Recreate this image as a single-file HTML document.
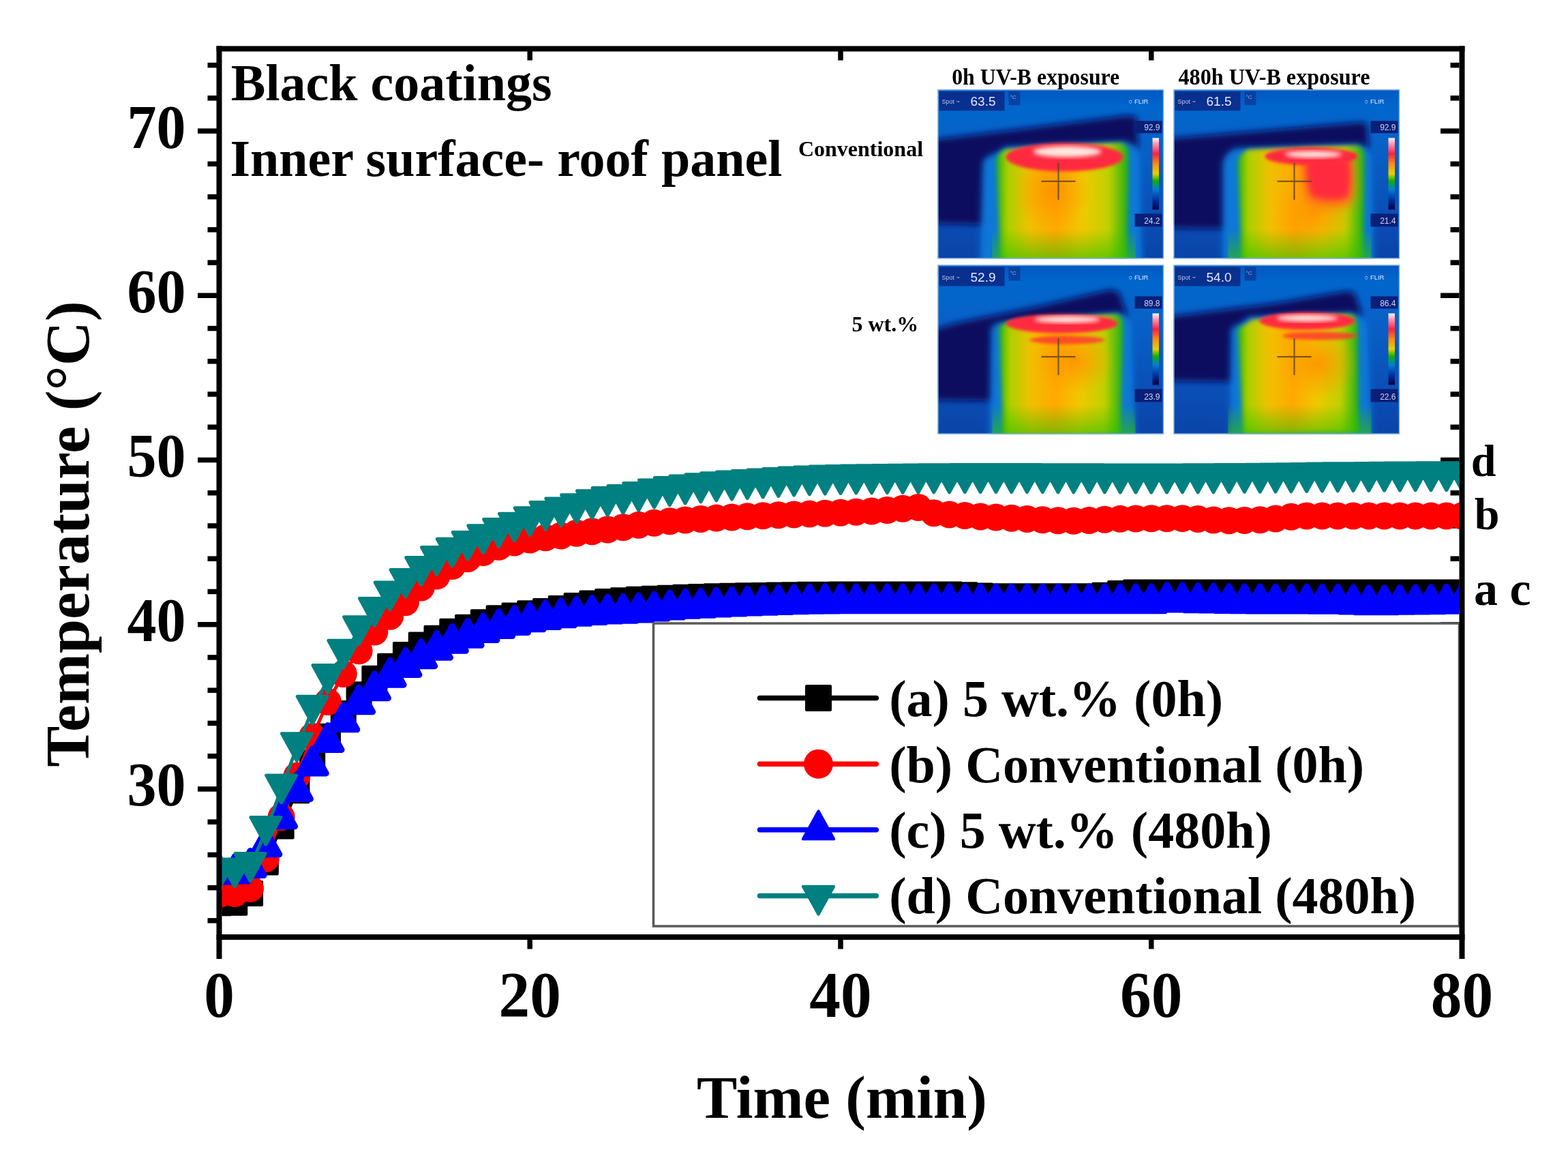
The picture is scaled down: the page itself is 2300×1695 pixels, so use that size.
<!DOCTYPE html><html><head><meta charset="utf-8"><title>Temperature vs time</title>
<style>html,body{margin:0;padding:0;background:#fff;}svg{display:block;}text{font-family:"Liberation Serif","Times New Roman",serif;font-weight:bold;fill:#000;}.th text{font-family:"Liberation Sans",sans-serif;font-weight:normal;}</style></head><body>
<svg width="2300" height="1695" viewBox="0 0 2300 1695">
<rect width="2300" height="1695" fill="#fff"/>
<g fill="#000"><rect x="304.5" y="1346.13" width="14" height="7.5"/><rect x="2127.5" y="1346.13" width="13" height="7.5"/><rect x="304.5" y="1297.89" width="14" height="7.5"/><rect x="2127.5" y="1297.89" width="13" height="7.5"/><rect x="304.5" y="1249.65" width="14" height="7.5"/><rect x="2127.5" y="1249.65" width="13" height="7.5"/><rect x="304.5" y="1201.41" width="14" height="7.5"/><rect x="2127.5" y="1201.41" width="13" height="7.5"/><rect x="290" y="1153.17" width="28.5" height="7.5"/><rect x="2113" y="1153.17" width="27.5" height="7.5"/><rect x="304.5" y="1104.93" width="14" height="7.5"/><rect x="2127.5" y="1104.93" width="13" height="7.5"/><rect x="304.5" y="1056.69" width="14" height="7.5"/><rect x="2127.5" y="1056.69" width="13" height="7.5"/><rect x="304.5" y="1008.44" width="14" height="7.5"/><rect x="2127.5" y="1008.44" width="13" height="7.5"/><rect x="304.5" y="960.2" width="14" height="7.5"/><rect x="2127.5" y="960.2" width="13" height="7.5"/><rect x="290" y="911.96" width="28.5" height="7.5"/><rect x="2113" y="911.96" width="27.5" height="7.5"/><rect x="304.5" y="863.72" width="14" height="7.5"/><rect x="2127.5" y="863.72" width="13" height="7.5"/><rect x="304.5" y="815.48" width="14" height="7.5"/><rect x="2127.5" y="815.48" width="13" height="7.5"/><rect x="304.5" y="767.24" width="14" height="7.5"/><rect x="2127.5" y="767.24" width="13" height="7.5"/><rect x="304.5" y="719" width="14" height="7.5"/><rect x="2127.5" y="719" width="13" height="7.5"/><rect x="290" y="670.76" width="28.5" height="7.5"/><rect x="2113" y="670.76" width="27.5" height="7.5"/><rect x="304.5" y="622.52" width="14" height="7.5"/><rect x="2127.5" y="622.52" width="13" height="7.5"/><rect x="304.5" y="574.28" width="14" height="7.5"/><rect x="2127.5" y="574.28" width="13" height="7.5"/><rect x="304.5" y="526.04" width="14" height="7.5"/><rect x="2127.5" y="526.04" width="13" height="7.5"/><rect x="304.5" y="477.8" width="14" height="7.5"/><rect x="2127.5" y="477.8" width="13" height="7.5"/><rect x="290" y="429.56" width="28.5" height="7.5"/><rect x="2113" y="429.56" width="27.5" height="7.5"/><rect x="304.5" y="381.31" width="14" height="7.5"/><rect x="2127.5" y="381.31" width="13" height="7.5"/><rect x="304.5" y="333.07" width="14" height="7.5"/><rect x="2127.5" y="333.07" width="13" height="7.5"/><rect x="304.5" y="284.83" width="14" height="7.5"/><rect x="2127.5" y="284.83" width="13" height="7.5"/><rect x="304.5" y="236.59" width="14" height="7.5"/><rect x="2127.5" y="236.59" width="13" height="7.5"/><rect x="290" y="188.35" width="28.5" height="7.5"/><rect x="2113" y="188.35" width="27.5" height="7.5"/><rect x="304.5" y="140.11" width="14" height="7.5"/><rect x="2127.5" y="140.11" width="13" height="7.5"/><rect x="304.5" y="91.87" width="14" height="7.5"/><rect x="2127.5" y="91.87" width="13" height="7.5"/><rect x="773.5" y="1377" width="7.5" height="14.5"/><rect x="773.5" y="74.5" width="7.5" height="14"/><rect x="1229.25" y="1377" width="7.5" height="14.5"/><rect x="1229.25" y="74.5" width="7.5" height="14"/><rect x="1685" y="1377" width="7.5" height="14.5"/><rect x="1685" y="74.5" width="7.5" height="14"/></g>
<defs><clipPath id="plot"><rect x="325.5" y="75.5" width="1815" height="1294.5"/></clipPath></defs>
<g clip-path="url(#plot)">
<polyline points="321.5,1324.31 344.29,1323.83 367.07,1310.08 389.86,1264.49 412.65,1211.43 435.44,1159.33 458.23,1118.32 481.01,1079.73 503.8,1045.96 526.59,1018.22 549.38,994.83 572.16,976.74 594.95,960.09 617.74,945.62 640.52,935.73 663.31,925.84 686.1,919.81 708.89,912.34 731.67,906.31 754.46,902.45 777.25,899.31 800.04,895.93 822.83,892.08 845.61,887.99 868.4,884.45 891.19,882.11 913.98,880.34 936.76,878.87 959.55,877.65 982.34,876.64 1005.12,875.76 1027.91,874.99 1050.7,874.33 1073.49,873.78 1096.28,873.33 1119.06,872.9 1141.85,872.49 1164.64,872.13 1187.42,871.84 1210.21,871.64 1233,871.57 1255.79,871.57 1278.58,871.57 1301.36,871.57 1324.15,871.57 1346.94,871.57 1369.72,871.57 1392.51,871.57 1415.3,872.26 1438.09,873.54 1460.88,874.23 1483.66,874.23 1506.45,874.23 1529.24,874.23 1552.03,874.23 1574.81,874.23 1597.6,874.23 1620.39,872.73 1643.17,869.94 1665.96,868.44 1688.75,868.44 1711.54,868.44 1734.33,868.44 1757.11,868.44 1779.9,868.44 1802.69,868.44 1825.47,868.44 1848.26,868.44 1871.05,868.44 1893.84,868.44 1916.62,868.44 1939.41,868.44 1962.2,868.44 1984.99,868.44 2007.78,868.44 2030.56,868.44 2053.35,868.44 2076.14,868.44 2098.93,868.44 2121.71,868.44 2144.5,868.44" fill="none" stroke="#000000" stroke-width="5.0" stroke-linejoin="round"/>
<path d="M304.5 1307.31h34v34h-34zM327.29 1306.83h34v34h-34zM350.07 1293.08h34v34h-34zM372.86 1247.49h34v34h-34zM395.65 1194.43h34v34h-34zM418.44 1142.33h34v34h-34zM441.23 1101.32h34v34h-34zM464.01 1062.73h34v34h-34zM486.8 1028.96h34v34h-34zM509.59 1001.22h34v34h-34zM532.38 977.83h34v34h-34zM555.16 959.74h34v34h-34zM577.95 943.09h34v34h-34zM600.74 928.62h34v34h-34zM623.52 918.73h34v34h-34zM646.31 908.84h34v34h-34zM669.1 902.81h34v34h-34zM691.89 895.34h34v34h-34zM714.67 889.31h34v34h-34zM737.46 885.45h34v34h-34zM760.25 882.31h34v34h-34zM783.04 878.93h34v34h-34zM805.83 875.08h34v34h-34zM828.61 870.99h34v34h-34zM851.4 867.45h34v34h-34zM874.19 865.11h34v34h-34zM896.98 863.34h34v34h-34zM919.76 861.87h34v34h-34zM942.55 860.65h34v34h-34zM965.34 859.64h34v34h-34zM988.12 858.76h34v34h-34zM1010.91 857.99h34v34h-34zM1033.7 857.33h34v34h-34zM1056.49 856.78h34v34h-34zM1079.28 856.33h34v34h-34zM1102.06 855.9h34v34h-34zM1124.85 855.49h34v34h-34zM1147.64 855.13h34v34h-34zM1170.42 854.84h34v34h-34zM1193.21 854.64h34v34h-34zM1216 854.57h34v34h-34zM1238.79 854.57h34v34h-34zM1261.58 854.57h34v34h-34zM1284.36 854.57h34v34h-34zM1307.15 854.57h34v34h-34zM1329.94 854.57h34v34h-34zM1352.72 854.57h34v34h-34zM1375.51 854.57h34v34h-34zM1398.3 855.26h34v34h-34zM1421.09 856.54h34v34h-34zM1443.88 857.23h34v34h-34zM1466.66 857.23h34v34h-34zM1489.45 857.23h34v34h-34zM1512.24 857.23h34v34h-34zM1535.03 857.23h34v34h-34zM1557.81 857.23h34v34h-34zM1580.6 857.23h34v34h-34zM1603.39 855.73h34v34h-34zM1626.17 852.94h34v34h-34zM1648.96 851.44h34v34h-34zM1671.75 851.44h34v34h-34zM1694.54 851.44h34v34h-34zM1717.33 851.44h34v34h-34zM1740.11 851.44h34v34h-34zM1762.9 851.44h34v34h-34zM1785.69 851.44h34v34h-34zM1808.47 851.44h34v34h-34zM1831.26 851.44h34v34h-34zM1854.05 851.44h34v34h-34zM1876.84 851.44h34v34h-34zM1899.62 851.44h34v34h-34zM1922.41 851.44h34v34h-34zM1945.2 851.44h34v34h-34zM1967.99 851.44h34v34h-34zM1990.78 851.44h34v34h-34zM2013.56 851.44h34v34h-34zM2036.35 851.44h34v34h-34zM2059.14 851.44h34v34h-34zM2081.93 851.44h34v34h-34zM2104.71 851.44h34v34h-34zM2127.5 851.44h34v34h-34z" fill="#000000" stroke="#000000" stroke-width="4" stroke-linejoin="round"/>
<polyline points="321.5,1311.29 344.29,1310.08 367.07,1302.84 389.86,1258.95 412.65,1197.92 435.44,1137.62 458.23,1079.73 481.01,1029.08 503.8,988.07 526.59,954.31 549.38,926.57 572.16,903.65 594.95,883.15 617.74,861.44 640.52,844.56 663.31,830.09 686.1,819.23 708.89,810.07 731.67,801.86 754.46,795.59 777.25,791.49 800.04,788.36 822.83,785.46 845.61,781.84 868.4,779.26 891.19,776.58 913.98,773.31 936.76,769.86 959.55,766.69 982.34,764.24 1005.12,762.45 1027.91,760.93 1050.7,759.61 1073.49,758.41 1096.28,757.28 1119.06,756.26 1141.85,755.35 1164.64,754.48 1187.42,753.62 1210.21,752.7 1233,751.69 1255.79,750.66 1278.58,749.53 1301.36,748.08 1324.15,745.66 1346.94,743.98 1369.72,752.18 1392.51,754.57 1415.3,756.04 1438.09,757.4 1460.88,758.56 1483.66,759.65 1506.45,760.92 1529.24,762.26 1552.03,763.32 1574.81,763.75 1597.6,763.07 1620.39,761.75 1643.17,760.86 1665.96,760.57 1688.75,760.34 1711.54,760.19 1734.33,760.14 1757.11,760.95 1779.9,762.46 1802.69,763.27 1825.47,762.98 1848.26,762.31 1871.05,760.48 1893.84,757.85 1916.62,756.52 1939.41,756.52 1962.2,756.52 1984.99,756.52 2007.78,756.52 2030.56,756.52 2053.35,756.52 2076.14,756.52 2098.93,756.52 2121.71,756.52 2144.5,756.52" fill="none" stroke="#ff0000" stroke-width="5.0" stroke-linejoin="round"/>
<g fill="#ff0000">
<circle cx="321.5" cy="1311.29" r="20"/>
<circle cx="344.29" cy="1310.08" r="20"/>
<circle cx="367.07" cy="1302.84" r="20"/>
<circle cx="389.86" cy="1258.95" r="20"/>
<circle cx="412.65" cy="1197.92" r="20"/>
<circle cx="435.44" cy="1137.62" r="20"/>
<circle cx="458.23" cy="1079.73" r="20"/>
<circle cx="481.01" cy="1029.08" r="20"/>
<circle cx="503.8" cy="988.07" r="20"/>
<circle cx="526.59" cy="954.31" r="20"/>
<circle cx="549.38" cy="926.57" r="20"/>
<circle cx="572.16" cy="903.65" r="20"/>
<circle cx="594.95" cy="883.15" r="20"/>
<circle cx="617.74" cy="861.44" r="20"/>
<circle cx="640.52" cy="844.56" r="20"/>
<circle cx="663.31" cy="830.09" r="20"/>
<circle cx="686.1" cy="819.23" r="20"/>
<circle cx="708.89" cy="810.07" r="20"/>
<circle cx="731.67" cy="801.86" r="20"/>
<circle cx="754.46" cy="795.59" r="20"/>
<circle cx="777.25" cy="791.49" r="20"/>
<circle cx="800.04" cy="788.36" r="20"/>
<circle cx="822.83" cy="785.46" r="20"/>
<circle cx="845.61" cy="781.84" r="20"/>
<circle cx="868.4" cy="779.26" r="20"/>
<circle cx="891.19" cy="776.58" r="20"/>
<circle cx="913.98" cy="773.31" r="20"/>
<circle cx="936.76" cy="769.86" r="20"/>
<circle cx="959.55" cy="766.69" r="20"/>
<circle cx="982.34" cy="764.24" r="20"/>
<circle cx="1005.12" cy="762.45" r="20"/>
<circle cx="1027.91" cy="760.93" r="20"/>
<circle cx="1050.7" cy="759.61" r="20"/>
<circle cx="1073.49" cy="758.41" r="20"/>
<circle cx="1096.28" cy="757.28" r="20"/>
<circle cx="1119.06" cy="756.26" r="20"/>
<circle cx="1141.85" cy="755.35" r="20"/>
<circle cx="1164.64" cy="754.48" r="20"/>
<circle cx="1187.42" cy="753.62" r="20"/>
<circle cx="1210.21" cy="752.7" r="20"/>
<circle cx="1233" cy="751.69" r="20"/>
<circle cx="1255.79" cy="750.66" r="20"/>
<circle cx="1278.58" cy="749.53" r="20"/>
<circle cx="1301.36" cy="748.08" r="20"/>
<circle cx="1324.15" cy="745.66" r="20"/>
<circle cx="1346.94" cy="743.98" r="20"/>
<circle cx="1369.72" cy="752.18" r="20"/>
<circle cx="1392.51" cy="754.57" r="20"/>
<circle cx="1415.3" cy="756.04" r="20"/>
<circle cx="1438.09" cy="757.4" r="20"/>
<circle cx="1460.88" cy="758.56" r="20"/>
<circle cx="1483.66" cy="759.65" r="20"/>
<circle cx="1506.45" cy="760.92" r="20"/>
<circle cx="1529.24" cy="762.26" r="20"/>
<circle cx="1552.03" cy="763.32" r="20"/>
<circle cx="1574.81" cy="763.75" r="20"/>
<circle cx="1597.6" cy="763.07" r="20"/>
<circle cx="1620.39" cy="761.75" r="20"/>
<circle cx="1643.17" cy="760.86" r="20"/>
<circle cx="1665.96" cy="760.57" r="20"/>
<circle cx="1688.75" cy="760.34" r="20"/>
<circle cx="1711.54" cy="760.19" r="20"/>
<circle cx="1734.33" cy="760.14" r="20"/>
<circle cx="1757.11" cy="760.95" r="20"/>
<circle cx="1779.9" cy="762.46" r="20"/>
<circle cx="1802.69" cy="763.27" r="20"/>
<circle cx="1825.47" cy="762.98" r="20"/>
<circle cx="1848.26" cy="762.31" r="20"/>
<circle cx="1871.05" cy="760.48" r="20"/>
<circle cx="1893.84" cy="757.85" r="20"/>
<circle cx="1916.62" cy="756.52" r="20"/>
<circle cx="1939.41" cy="756.52" r="20"/>
<circle cx="1962.2" cy="756.52" r="20"/>
<circle cx="1984.99" cy="756.52" r="20"/>
<circle cx="2007.78" cy="756.52" r="20"/>
<circle cx="2030.56" cy="756.52" r="20"/>
<circle cx="2053.35" cy="756.52" r="20"/>
<circle cx="2076.14" cy="756.52" r="20"/>
<circle cx="2098.93" cy="756.52" r="20"/>
<circle cx="2121.71" cy="756.52" r="20"/>
<circle cx="2144.5" cy="756.52" r="20"/>
</g>
<polyline points="321.5,1275.11 344.29,1273.9 367.07,1265.46 389.86,1234.83 412.65,1193.82 435.44,1153.54 458.23,1115.91 481.01,1081.42 503.8,1051.75 526.59,1025.7 549.38,1005.68 572.16,986.14 594.95,971.43 617.74,958.65 640.52,946.35 663.31,936.22 686.1,928.26 708.89,920.54 731.67,914.51 754.46,909.44 777.25,904.86 800.04,901.62 822.83,898.77 845.61,896.36 868.4,894.43 891.19,893.05 913.98,892.13 936.76,890.88 959.55,889.04 982.34,887.05 1005.12,885.34 1027.91,884.19 1050.7,883.11 1073.49,882.07 1096.28,881.1 1119.06,880.2 1141.85,879.42 1164.64,878.76 1187.42,878.27 1210.21,877.95 1233,877.84 1255.79,877.84 1278.58,877.84 1301.36,877.84 1324.15,877.84 1346.94,877.84 1369.72,877.84 1392.51,877.84 1415.3,877.84 1438.09,877.84 1460.88,877.84 1483.66,877.84 1506.45,877.84 1529.24,877.84 1552.03,877.84 1574.81,877.84 1597.6,877.84 1620.39,877.84 1643.17,877.84 1665.96,877.84 1688.75,877.84 1711.54,875.67 1734.33,876.05 1757.11,876.64 1779.9,877.11 1802.69,877.57 1825.47,877.84 1848.26,877.96 1871.05,878.02 1893.84,878.07 1916.62,878.12 1939.41,878.19 1962.2,878.33 1984.99,879.09 2007.78,879.77 2030.56,879.65 2053.35,879.37 2076.14,879.05 2098.93,878.71 2121.71,878.3 2144.5,877.84" fill="none" stroke="#0000ff" stroke-width="5.0" stroke-linejoin="round"/>
<path d="M321.5 1257.11L341.5 1293.11L301.5 1293.11zM344.29 1255.9L364.29 1291.9L324.29 1291.9zM367.07 1247.46L387.07 1283.46L347.07 1283.46zM389.86 1216.83L409.86 1252.83L369.86 1252.83zM412.65 1175.82L432.65 1211.82L392.65 1211.82zM435.44 1135.54L455.44 1171.54L415.44 1171.54zM458.23 1097.91L478.23 1133.91L438.23 1133.91zM481.01 1063.42L501.01 1099.42L461.01 1099.42zM503.8 1033.75L523.8 1069.75L483.8 1069.75zM526.59 1007.7L546.59 1043.7L506.59 1043.7zM549.38 987.68L569.38 1023.68L529.38 1023.68zM572.16 968.14L592.16 1004.14L552.16 1004.14zM594.95 953.43L614.95 989.43L574.95 989.43zM617.74 940.65L637.74 976.65L597.74 976.65zM640.52 928.35L660.52 964.35L620.52 964.35zM663.31 918.22L683.31 954.22L643.31 954.22zM686.1 910.26L706.1 946.26L666.1 946.26zM708.89 902.54L728.89 938.54L688.89 938.54zM731.67 896.51L751.67 932.51L711.67 932.51zM754.46 891.44L774.46 927.44L734.46 927.44zM777.25 886.86L797.25 922.86L757.25 922.86zM800.04 883.62L820.04 919.62L780.04 919.62zM822.83 880.77L842.83 916.77L802.83 916.77zM845.61 878.36L865.61 914.36L825.61 914.36zM868.4 876.43L888.4 912.43L848.4 912.43zM891.19 875.05L911.19 911.05L871.19 911.05zM913.98 874.13L933.98 910.13L893.98 910.13zM936.76 872.88L956.76 908.88L916.76 908.88zM959.55 871.04L979.55 907.04L939.55 907.04zM982.34 869.05L1002.34 905.05L962.34 905.05zM1005.12 867.34L1025.12 903.34L985.12 903.34zM1027.91 866.19L1047.91 902.19L1007.91 902.19zM1050.7 865.11L1070.7 901.11L1030.7 901.11zM1073.49 864.07L1093.49 900.07L1053.49 900.07zM1096.28 863.1L1116.28 899.1L1076.28 899.1zM1119.06 862.2L1139.06 898.2L1099.06 898.2zM1141.85 861.42L1161.85 897.42L1121.85 897.42zM1164.64 860.76L1184.64 896.76L1144.64 896.76zM1187.42 860.27L1207.42 896.27L1167.42 896.27zM1210.21 859.95L1230.21 895.95L1190.21 895.95zM1233 859.84L1253 895.84L1213 895.84zM1255.79 859.84L1275.79 895.84L1235.79 895.84zM1278.58 859.84L1298.58 895.84L1258.58 895.84zM1301.36 859.84L1321.36 895.84L1281.36 895.84zM1324.15 859.84L1344.15 895.84L1304.15 895.84zM1346.94 859.84L1366.94 895.84L1326.94 895.84zM1369.72 859.84L1389.72 895.84L1349.72 895.84zM1392.51 859.84L1412.51 895.84L1372.51 895.84zM1415.3 859.84L1435.3 895.84L1395.3 895.84zM1438.09 859.84L1458.09 895.84L1418.09 895.84zM1460.88 859.84L1480.88 895.84L1440.88 895.84zM1483.66 859.84L1503.66 895.84L1463.66 895.84zM1506.45 859.84L1526.45 895.84L1486.45 895.84zM1529.24 859.84L1549.24 895.84L1509.24 895.84zM1552.03 859.84L1572.03 895.84L1532.03 895.84zM1574.81 859.84L1594.81 895.84L1554.81 895.84zM1597.6 859.84L1617.6 895.84L1577.6 895.84zM1620.39 859.84L1640.39 895.84L1600.39 895.84zM1643.17 859.84L1663.17 895.84L1623.17 895.84zM1665.96 859.84L1685.96 895.84L1645.96 895.84zM1688.75 859.84L1708.75 895.84L1668.75 895.84zM1711.54 857.67L1731.54 893.67L1691.54 893.67zM1734.33 858.05L1754.33 894.05L1714.33 894.05zM1757.11 858.64L1777.11 894.64L1737.11 894.64zM1779.9 859.11L1799.9 895.11L1759.9 895.11zM1802.69 859.57L1822.69 895.57L1782.69 895.57zM1825.47 859.84L1845.47 895.84L1805.47 895.84zM1848.26 859.96L1868.26 895.96L1828.26 895.96zM1871.05 860.02L1891.05 896.02L1851.05 896.02zM1893.84 860.07L1913.84 896.07L1873.84 896.07zM1916.62 860.12L1936.62 896.12L1896.62 896.12zM1939.41 860.19L1959.41 896.19L1919.41 896.19zM1962.2 860.33L1982.2 896.33L1942.2 896.33zM1984.99 861.09L2004.99 897.09L1964.99 897.09zM2007.78 861.77L2027.78 897.77L1987.78 897.77zM2030.56 861.65L2050.56 897.65L2010.56 897.65zM2053.35 861.37L2073.35 897.37L2033.35 897.37zM2076.14 861.05L2096.14 897.05L2056.14 897.05zM2098.93 860.71L2118.93 896.71L2078.93 896.71zM2121.71 860.3L2141.71 896.3L2101.71 896.3zM2144.5 859.84L2164.5 895.84L2124.5 895.84z" fill="#0000ff" stroke="#0000ff" stroke-width="9" stroke-linejoin="round"/>
<polyline points="321.5,1282.34 344.29,1279.93 367.07,1271.49 389.86,1218.42 412.65,1156.92 435.44,1095.65 458.23,1041.14 481.01,995.55 503.8,959.13 526.59,924.64 549.38,897.38 572.16,873.98 594.95,855.41 617.74,837.56 640.52,822.61 663.31,810.31 686.1,800.42 708.89,790.77 731.67,781.6 754.46,773.16 777.25,764.72 800.04,756.52 822.83,750.97 845.61,745.66 868.4,739.63 891.19,735.53 913.98,732.4 936.76,728.42 959.55,724.11 982.34,720.58 1005.12,718.01 1027.91,715.79 1050.7,713.84 1073.49,712.12 1096.28,710.55 1119.06,708.99 1141.85,707.48 1164.64,706.1 1187.42,704.91 1210.21,704.01 1233,703.45 1255.79,703.12 1278.58,702.8 1301.36,702.52 1324.15,702.27 1346.94,702.05 1369.72,701.87 1392.51,701.72 1415.3,701.61 1438.09,701.55 1460.88,701.52 1483.66,701.54 1506.45,701.57 1529.24,701.63 1552.03,701.69 1574.81,701.77 1597.6,701.84 1620.39,701.9 1643.17,701.96 1665.96,701.99 1688.75,702.01 1711.54,701.98 1734.33,701.92 1757.11,701.83 1779.9,701.7 1802.69,701.56 1825.47,701.4 1848.26,701.22 1871.05,701.04 1893.84,700.79 1916.62,700.45 1939.41,700.11 1962.2,699.84 1984.99,699.63 2007.78,699.43 2030.56,699.24 2053.35,699.07 2076.14,698.92 2098.93,698.8 2121.71,698.7 2144.5,698.63" fill="none" stroke="#008080" stroke-width="5.0" stroke-linejoin="round"/>
<path d="M321.5 1302.34L343.5 1262.34L299.5 1262.34zM344.29 1299.93L366.29 1259.93L322.29 1259.93zM367.07 1291.49L389.07 1251.49L345.07 1251.49zM389.86 1238.42L411.86 1198.42L367.86 1198.42zM412.65 1176.92L434.65 1136.92L390.65 1136.92zM435.44 1115.65L457.44 1075.65L413.44 1075.65zM458.23 1061.14L480.23 1021.14L436.23 1021.14zM481.01 1015.55L503.01 975.55L459.01 975.55zM503.8 979.13L525.8 939.13L481.8 939.13zM526.59 944.64L548.59 904.64L504.59 904.64zM549.38 917.38L571.38 877.38L527.38 877.38zM572.16 893.98L594.16 853.98L550.16 853.98zM594.95 875.41L616.95 835.41L572.95 835.41zM617.74 857.56L639.74 817.56L595.74 817.56zM640.52 842.61L662.52 802.61L618.52 802.61zM663.31 830.31L685.31 790.31L641.31 790.31zM686.1 820.42L708.1 780.42L664.1 780.42zM708.89 810.77L730.89 770.77L686.89 770.77zM731.67 801.6L753.67 761.6L709.67 761.6zM754.46 793.16L776.46 753.16L732.46 753.16zM777.25 784.72L799.25 744.72L755.25 744.72zM800.04 776.52L822.04 736.52L778.04 736.52zM822.83 770.97L844.83 730.97L800.83 730.97zM845.61 765.66L867.61 725.66L823.61 725.66zM868.4 759.63L890.4 719.63L846.4 719.63zM891.19 755.53L913.19 715.53L869.19 715.53zM913.98 752.4L935.98 712.4L891.98 712.4zM936.76 748.42L958.76 708.42L914.76 708.42zM959.55 744.11L981.55 704.11L937.55 704.11zM982.34 740.58L1004.34 700.58L960.34 700.58zM1005.12 738.01L1027.12 698.01L983.12 698.01zM1027.91 735.79L1049.91 695.79L1005.91 695.79zM1050.7 733.84L1072.7 693.84L1028.7 693.84zM1073.49 732.12L1095.49 692.12L1051.49 692.12zM1096.28 730.55L1118.28 690.55L1074.28 690.55zM1119.06 728.99L1141.06 688.99L1097.06 688.99zM1141.85 727.48L1163.85 687.48L1119.85 687.48zM1164.64 726.1L1186.64 686.1L1142.64 686.1zM1187.42 724.91L1209.42 684.91L1165.42 684.91zM1210.21 724.01L1232.21 684.01L1188.21 684.01zM1233 723.45L1255 683.45L1211 683.45zM1255.79 723.12L1277.79 683.12L1233.79 683.12zM1278.58 722.8L1300.58 682.8L1256.58 682.8zM1301.36 722.52L1323.36 682.52L1279.36 682.52zM1324.15 722.27L1346.15 682.27L1302.15 682.27zM1346.94 722.05L1368.94 682.05L1324.94 682.05zM1369.72 721.87L1391.72 681.87L1347.72 681.87zM1392.51 721.72L1414.51 681.72L1370.51 681.72zM1415.3 721.61L1437.3 681.61L1393.3 681.61zM1438.09 721.55L1460.09 681.55L1416.09 681.55zM1460.88 721.52L1482.88 681.52L1438.88 681.52zM1483.66 721.54L1505.66 681.54L1461.66 681.54zM1506.45 721.57L1528.45 681.57L1484.45 681.57zM1529.24 721.63L1551.24 681.63L1507.24 681.63zM1552.03 721.69L1574.03 681.69L1530.03 681.69zM1574.81 721.77L1596.81 681.77L1552.81 681.77zM1597.6 721.84L1619.6 681.84L1575.6 681.84zM1620.39 721.9L1642.39 681.9L1598.39 681.9zM1643.17 721.96L1665.17 681.96L1621.17 681.96zM1665.96 721.99L1687.96 681.99L1643.96 681.99zM1688.75 722.01L1710.75 682.01L1666.75 682.01zM1711.54 721.98L1733.54 681.98L1689.54 681.98zM1734.33 721.92L1756.33 681.92L1712.33 681.92zM1757.11 721.83L1779.11 681.83L1735.11 681.83zM1779.9 721.7L1801.9 681.7L1757.9 681.7zM1802.69 721.56L1824.69 681.56L1780.69 681.56zM1825.47 721.4L1847.47 681.4L1803.47 681.4zM1848.26 721.22L1870.26 681.22L1826.26 681.22zM1871.05 721.04L1893.05 681.04L1849.05 681.04zM1893.84 720.79L1915.84 680.79L1871.84 680.79zM1916.62 720.45L1938.62 680.45L1894.62 680.45zM1939.41 720.11L1961.41 680.11L1917.41 680.11zM1962.2 719.84L1984.2 679.84L1940.2 679.84zM1984.99 719.63L2006.99 679.63L1962.99 679.63zM2007.78 719.43L2029.78 679.43L1985.78 679.43zM2030.56 719.24L2052.56 679.24L2008.56 679.24zM2053.35 719.07L2075.35 679.07L2031.35 679.07zM2076.14 718.92L2098.14 678.92L2054.14 678.92zM2098.93 718.8L2120.93 678.8L2076.93 678.8zM2121.71 718.7L2143.71 678.7L2099.71 678.7zM2144.5 718.63L2166.5 678.63L2122.5 678.63z" fill="#008080" stroke="#008080" stroke-width="5" stroke-linejoin="round"/>
</g>
<defs>
<linearGradient id="thBg" x1="0" y1="0" x2="0" y2="1">
 <stop offset="0" stop-color="#0058c0"/><stop offset="0.1" stop-color="#0066cc"/>
 <stop offset="0.3" stop-color="#0862c8"/><stop offset="0.7" stop-color="#0a50b8"/><stop offset="1" stop-color="#0a44a8"/>
</linearGradient>
<linearGradient id="thBar" x1="0" y1="0" x2="0" y2="1">
 <stop offset="0" stop-color="#fff4f0"/><stop offset="0.08" stop-color="#ff9ab0"/>
 <stop offset="0.22" stop-color="#ff2040"/><stop offset="0.36" stop-color="#ff8a10"/>
 <stop offset="0.5" stop-color="#e8d000"/><stop offset="0.6" stop-color="#10b000"/>
 <stop offset="0.72" stop-color="#0080d0"/><stop offset="0.86" stop-color="#0030a0"/>
 <stop offset="1" stop-color="#000040"/>
</linearGradient>
<linearGradient id="thBody" x1="0" y1="0" x2="1" y2="0">
 <stop offset="0" stop-color="#18b010"/><stop offset="0.08" stop-color="#a8d000"/>
 <stop offset="0.25" stop-color="#f0c000"/><stop offset="0.45" stop-color="#ffa800"/>
 <stop offset="0.65" stop-color="#f0c800"/><stop offset="0.85" stop-color="#c0d000"/>
 <stop offset="1" stop-color="#18b010"/>
</linearGradient>
<linearGradient id="thBodyV" x1="0" y1="0" x2="0" y2="1">
 <stop offset="0" stop-color="#30c000" stop-opacity="0"/><stop offset="0.5" stop-color="#30c000" stop-opacity="0"/>
 <stop offset="1" stop-color="#30c000" stop-opacity="0.8"/>
</linearGradient>
<radialGradient id="thHot">
 <stop offset="0" stop-color="#ff9000"/><stop offset="1" stop-color="#ff9800" stop-opacity="0"/>
</radialGradient>
<radialGradient id="thRed">
 <stop offset="0" stop-color="#ff2040"/><stop offset="0.45" stop-color="#ff3038" stop-opacity="0.95"/><stop offset="0.8" stop-color="#ff6020" stop-opacity="0.5"/><stop offset="1" stop-color="#ff8010" stop-opacity="0"/>
</radialGradient>
<filter id="thB2" x="-20%" y="-50%" width="140%" height="200%"><feGaussianBlur stdDeviation="2.2"/></filter>
<filter id="thB3" x="-20%" y="-20%" width="140%" height="140%"><feGaussianBlur stdDeviation="3"/></filter>
<filter id="thB5" x="-30%" y="-30%" width="160%" height="160%"><feGaussianBlur stdDeviation="5"/></filter>
<filter id="thB8" x="-30%" y="-30%" width="160%" height="160%"><feGaussianBlur stdDeviation="8"/></filter>
</defs>
<clipPath id="thc0"><rect x="0" y="0" width="331.5" height="248.0"/></clipPath>
<g transform="translate(1375.5 131.3)">
<g clip-path="url(#thc0)">
<rect width="331.5" height="248.0" fill="url(#thBg)"/>
<path d="M-10 74 L120 58 L278 38 L292 40 L294 84 L240 120 L120 200 L-10 196 Z" fill="#0a0a5e" filter="url(#thB5)"/>
<path d="M66 108 Q68 98 84 94 L100 84 L272 76 Q292 78 296 96 L300 260 L62 260 Z" fill="#0878d8" filter="url(#thB5)"/>
<path d="M86 104 Q88 92 100 88 L268 78 Q280 80 280 96 L278 260 L92 260 Z" fill="url(#thBody)" filter="url(#thB3)"/>
<ellipse cx="168" cy="150" rx="55" ry="55" fill="url(#thHot)" opacity="0.9"/>
<rect x="80" y="150" width="210" height="110" fill="url(#thBodyV)"/>
<ellipse cx="186" cy="99" rx="86" ry="21" fill="#ff2a40" filter="url(#thB2)"/>
<ellipse cx="190" cy="91" rx="50" ry="8" fill="#ffe8e0" filter="url(#thB3)"/>
<g stroke="#6a4818" stroke-width="2.2" opacity="0.85"><line x1="152" y1="134.6" x2="202" y2="134.6"/><line x1="177" y1="107.6" x2="177" y2="161.6"/></g>
<rect x="2" y="3" width="96" height="28" fill="#0a2a88" opacity="0.9"/>
<rect x="104" y="3" width="17" height="20" fill="#0a3a98" opacity="0.8"/>
<g class="th"><text x="6" y="21" font-size="9" style="fill:#b8c4e8">Spot ~</text>
<text x="48" y="24" font-size="19" style="fill:#dfe8ff">63.5</text>
<text x="106" y="14" font-size="8" style="fill:#9ab0e0">°C</text>
<text x="280" y="21" font-size="9.5" style="fill:#e0e8ff">&#x25CB; FLIR</text>
<rect x="289" y="46" width="40" height="18" fill="#0a1f78"/>
<rect x="289" y="182" width="40" height="19" fill="#0a1f78"/>
<text x="326" y="60" font-size="12" text-anchor="end" style="fill:#c8d4f0">92.9</text>
<text x="326" y="197" font-size="12" text-anchor="end" style="fill:#c8d4f0">24.2</text>
</g>
<rect x="315" y="71" width="9.5" height="105" fill="url(#thBar)"/>
</g>
<rect x="0.5" y="0.5" width="330.5" height="247.0" fill="none" stroke="#7fb0e0" stroke-width="1.5"/>
</g>
<clipPath id="thc1"><rect x="0" y="0" width="331.5" height="248.0"/></clipPath>
<g transform="translate(1721.5 131.3)">
<g clip-path="url(#thc1)">
<rect width="331.5" height="248.0" fill="url(#thBg)"/>
<path d="M-10 72 L274 48 L284 50 L286 86 L240 120 L120 205 L-10 203 Z" fill="#0a0a5e" filter="url(#thB5)"/>
<path d="M72 110 Q74 92 92 86 L270 80 Q288 82 290 100 L294 260 L72 260 Z" fill="#0878d8" filter="url(#thB5)"/>
<path d="M94 108 Q96 94 110 88 L268 82 Q280 84 280 100 L278 260 L100 260 Z" fill="url(#thBody)" filter="url(#thB3)"/>
<ellipse cx="205" cy="180" rx="60" ry="60" fill="url(#thHot)" opacity="0.85"/>
<rect x="80" y="150" width="210" height="110" fill="url(#thBodyV)"/>
<path d="M186 104 L262 100 Q268 130 262 168 Q230 178 196 166 Q186 140 186 104 Z" fill="#ff7018" filter="url(#thB8)"/>
<path d="M194 102 L258 100 Q262 128 256 158 Q230 166 202 156 Q194 132 194 102 Z" fill="#ff2a3c" filter="url(#thB5)"/>
<ellipse cx="202" cy="98" rx="68" ry="13" fill="#ff2a40" filter="url(#thB2)"/>
<ellipse cx="205" cy="95" rx="42" ry="5" fill="#ffe8e0" filter="url(#thB3)"/>
<g stroke="#6a4818" stroke-width="2.2" opacity="0.85"><line x1="152" y1="134.6" x2="202" y2="134.6"/><line x1="177" y1="107.6" x2="177" y2="161.6"/></g>
<rect x="2" y="3" width="96" height="28" fill="#0a2a88" opacity="0.9"/>
<rect x="104" y="3" width="17" height="20" fill="#0a3a98" opacity="0.8"/>
<g class="th"><text x="6" y="21" font-size="9" style="fill:#b8c4e8">Spot ~</text>
<text x="48" y="24" font-size="19" style="fill:#dfe8ff">61.5</text>
<text x="106" y="14" font-size="8" style="fill:#9ab0e0">°C</text>
<text x="280" y="21" font-size="9.5" style="fill:#e0e8ff">&#x25CB; FLIR</text>
<rect x="289" y="46" width="40" height="18" fill="#0a1f78"/>
<rect x="289" y="182" width="40" height="19" fill="#0a1f78"/>
<text x="326" y="60" font-size="12" text-anchor="end" style="fill:#c8d4f0">92.9</text>
<text x="326" y="197" font-size="12" text-anchor="end" style="fill:#c8d4f0">21.4</text>
</g>
<rect x="315" y="71" width="9.5" height="105" fill="url(#thBar)"/>
</g>
<rect x="0.5" y="0.5" width="330.5" height="247.0" fill="none" stroke="#7fb0e0" stroke-width="1.5"/>
</g>
<clipPath id="thc2"><rect x="0" y="0" width="331.5" height="248.0"/></clipPath>
<g transform="translate(1375.5 388.5)">
<g clip-path="url(#thc2)">
<rect width="331.5" height="248.0" fill="url(#thBg)"/>
<path d="M-10 96 L32 84 L150 60 L254 36 L266 40 L278 74 L240 120 L120 200 L-10 198 Z" fill="#0a0a5e" filter="url(#thB5)"/>
<path d="M78 96 Q80 86 92 84 L264 70 Q282 72 284 90 L290 260 L76 260 Z" fill="#0878d8" filter="url(#thB5)"/>
<path d="M90 94 Q92 86 104 84 L262 72 Q272 74 272 90 L268 248 L96 252 Z" fill="url(#thBody)" filter="url(#thB3)"/>
<ellipse cx="200" cy="140" rx="60" ry="50" fill="url(#thHot)" opacity="0.85"/>
<rect x="80" y="150" width="210" height="110" fill="url(#thBodyV)"/>
<ellipse cx="190" cy="110" rx="55" ry="6" fill="#ff3030" opacity="0.8" filter="url(#thB2)"/>
<ellipse cx="182" cy="86" rx="82" ry="14" fill="#ff2a40" filter="url(#thB2)"/>
<ellipse cx="190" cy="80" rx="48" ry="5" fill="#ffe8e0" filter="url(#thB3)"/>
<g stroke="#6a4818" stroke-width="2.2" opacity="0.85"><line x1="152" y1="134.6" x2="202" y2="134.6"/><line x1="177" y1="107.6" x2="177" y2="161.6"/></g>
<rect x="2" y="3" width="96" height="28" fill="#0a2a88" opacity="0.9"/>
<rect x="104" y="3" width="17" height="20" fill="#0a3a98" opacity="0.8"/>
<g class="th"><text x="6" y="21" font-size="9" style="fill:#b8c4e8">Spot ~</text>
<text x="48" y="24" font-size="19" style="fill:#dfe8ff">52.9</text>
<text x="106" y="14" font-size="8" style="fill:#9ab0e0">°C</text>
<text x="280" y="21" font-size="9.5" style="fill:#e0e8ff">&#x25CB; FLIR</text>
<rect x="289" y="46" width="40" height="18" fill="#0a1f78"/>
<rect x="289" y="182" width="40" height="19" fill="#0a1f78"/>
<text x="326" y="60" font-size="12" text-anchor="end" style="fill:#c8d4f0">89.8</text>
<text x="326" y="197" font-size="12" text-anchor="end" style="fill:#c8d4f0">23.9</text>
</g>
<rect x="315" y="71" width="9.5" height="105" fill="url(#thBar)"/>
</g>
<rect x="0.5" y="0.5" width="330.5" height="247.0" fill="none" stroke="#7fb0e0" stroke-width="1.5"/>
</g>
<clipPath id="thc3"><rect x="0" y="0" width="331.5" height="248.0"/></clipPath>
<g transform="translate(1721.5 388.5)">
<g clip-path="url(#thc3)">
<rect width="331.5" height="248.0" fill="url(#thBg)"/>
<path d="M-10 76 L150 56 L255 38 L266 42 L276 72 L240 120 L120 172 L-10 170 Z" fill="#0a0a5e" filter="url(#thB5)"/>
<path d="M84 96 Q86 90 98 86 L110 76 L262 70 Q280 72 284 92 L292 260 L82 260 Z" fill="#0878d8" filter="url(#thB5)"/>
<path d="M94 96 Q96 90 104 88 L116 80 L258 72 Q270 74 270 92 L272 246 L102 248 Z" fill="url(#thBody)" filter="url(#thB3)"/>
<ellipse cx="212" cy="145" rx="58" ry="52" fill="url(#thHot)" opacity="0.85"/>
<rect x="80" y="150" width="210" height="110" fill="url(#thBodyV)"/>
<ellipse cx="215" cy="104" rx="55" ry="6" fill="#ff3030" opacity="0.8" filter="url(#thB2)"/>
<ellipse cx="196" cy="82" rx="70" ry="13" fill="#ff2a40" filter="url(#thB2)"/>
<ellipse cx="196" cy="78" rx="45" ry="5" fill="#ffe8e0" filter="url(#thB3)"/>
<g stroke="#6a4818" stroke-width="2.2" opacity="0.85"><line x1="152" y1="134.6" x2="202" y2="134.6"/><line x1="177" y1="107.6" x2="177" y2="161.6"/></g>
<rect x="2" y="3" width="96" height="28" fill="#0a2a88" opacity="0.9"/>
<rect x="104" y="3" width="17" height="20" fill="#0a3a98" opacity="0.8"/>
<g class="th"><text x="6" y="21" font-size="9" style="fill:#b8c4e8">Spot ~</text>
<text x="48" y="24" font-size="19" style="fill:#dfe8ff">54.0</text>
<text x="106" y="14" font-size="8" style="fill:#9ab0e0">°C</text>
<text x="280" y="21" font-size="9.5" style="fill:#e0e8ff">&#x25CB; FLIR</text>
<rect x="289" y="46" width="40" height="18" fill="#0a1f78"/>
<rect x="289" y="182" width="40" height="19" fill="#0a1f78"/>
<text x="326" y="60" font-size="12" text-anchor="end" style="fill:#c8d4f0">86.4</text>
<text x="326" y="197" font-size="12" text-anchor="end" style="fill:#c8d4f0">22.6</text>
</g>
<rect x="315" y="71" width="9.5" height="105" fill="url(#thBar)"/>
</g>
<rect x="0.5" y="0.5" width="330.5" height="247.0" fill="none" stroke="#7fb0e0" stroke-width="1.5"/>
</g>
<rect x="958.5" y="914" width="1182" height="444" fill="#fff" stroke="#5a5a5a" stroke-width="3.5"/>
<line x1="1114.5" y1="1023.6" x2="1285.3" y2="1023.6" stroke="#000000" stroke-width="7.5" stroke-linecap="round"/>
<rect x="1183" y="1006.1" width="35" height="35" fill="#000000" stroke="#000000" stroke-width="4" stroke-linejoin="round"/>
<text x="1304.3" y="1050.3" font-size="76">(a) 5 wt.% (0h)</text>
<line x1="1114.5" y1="1120.2" x2="1285.3" y2="1120.2" stroke="#ff0000" stroke-width="7.5" stroke-linecap="round"/>
<circle cx="1200.5" cy="1120.2" r="21.5" fill="#ff0000"/>
<text x="1304.3" y="1146.53" font-size="76">(b) Conventional (0h)</text>
<line x1="1114.5" y1="1216.8" x2="1285.3" y2="1216.8" stroke="#0000ff" stroke-width="7.5" stroke-linecap="round"/>
<path d="M1200.5 1189.3L1223.2 1230.3L1177.8 1230.3z" fill="#0000ff" stroke="#0000ff" stroke-width="4" stroke-linejoin="round"/>
<text x="1304.3" y="1242.76" font-size="76">(c) 5 wt.% (480h)</text>
<line x1="1114.5" y1="1313.4" x2="1285.3" y2="1313.4" stroke="#008080" stroke-width="7.5" stroke-linecap="round"/>
<path d="M1200.5 1340.7L1223.2 1299.7L1177.8 1299.7z" fill="#008080" stroke="#008080" stroke-width="4" stroke-linejoin="round"/>
<text x="1304.3" y="1338.99" font-size="76">(d) Conventional (480h)</text>
<g fill="#000"><rect x="317.5" y="67.5" width="8" height="1338.5"/><rect x="2140.5" y="67.5" width="8" height="1338.5"/><rect x="317.5" y="67.5" width="1831" height="8"/><rect x="317.5" y="1370" width="1831" height="8"/></g>
<text x="272.5" y="1181.42" font-size="92" text-anchor="end" textLength="86" lengthAdjust="spacingAndGlyphs">30</text>
<text x="272.5" y="940.21" font-size="92" text-anchor="end" textLength="86" lengthAdjust="spacingAndGlyphs">40</text>
<text x="272.5" y="699.01" font-size="92" text-anchor="end" textLength="86" lengthAdjust="spacingAndGlyphs">50</text>
<text x="272.5" y="457.81" font-size="92" text-anchor="end" textLength="86" lengthAdjust="spacingAndGlyphs">60</text>
<text x="272.5" y="216.6" font-size="92" text-anchor="end" textLength="86" lengthAdjust="spacingAndGlyphs">70</text>
<text x="321.5" y="1491" font-size="95" text-anchor="middle" textLength="44.6" lengthAdjust="spacingAndGlyphs">0</text>
<text x="777.25" y="1491" font-size="95" text-anchor="middle" textLength="91.4" lengthAdjust="spacingAndGlyphs">20</text>
<text x="1233" y="1491" font-size="95" text-anchor="middle" textLength="91.4" lengthAdjust="spacingAndGlyphs">40</text>
<text x="1688.75" y="1491" font-size="95" text-anchor="middle" textLength="91.4" lengthAdjust="spacingAndGlyphs">60</text>
<text x="2144.5" y="1491" font-size="95" text-anchor="middle" textLength="91.4" lengthAdjust="spacingAndGlyphs">80</text>
<text x="1022" y="1639" font-size="89">Time (min)</text>
<text transform="translate(129.5 783) rotate(-90)" x="0" y="0" font-size="90" text-anchor="middle">Temperature (°C)</text>
<text x="338.7" y="146.9" font-size="76">Black coatings</text>
<text x="337.4" y="258.4" font-size="76">Inner surface- roof panel</text>
<text x="1170.9" y="229" font-size="32">Conventional</text>
<text x="1249.4" y="486.3" font-size="32">5 wt.%</text>
<text x="2157.8" y="698.3" font-size="66">d</text>
<text x="2162.8" y="776.3" font-size="66">b</text>
<text x="2162.1" y="887.1" font-size="70">a c</text>
<text x="1396.2" y="124.3" font-size="34" textLength="246" lengthAdjust="spacingAndGlyphs">0h UV-B exposure</text>
<text x="1728.5" y="124.3" font-size="34" textLength="281" lengthAdjust="spacingAndGlyphs">480h UV-B exposure</text>
</svg></body></html>
